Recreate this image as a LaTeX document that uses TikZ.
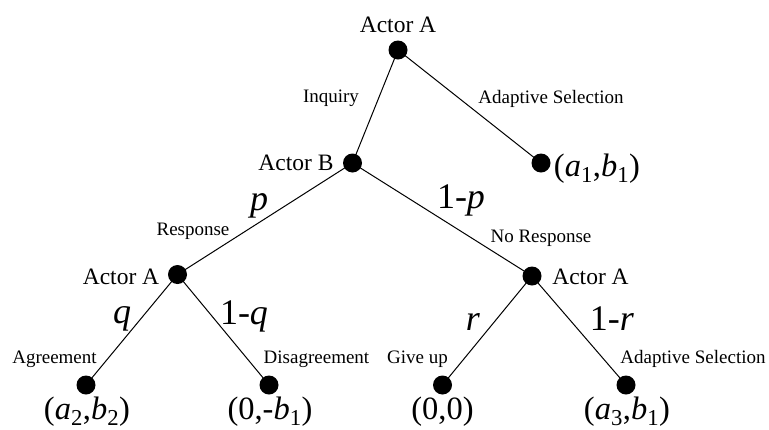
\documentclass[tikz,border=0pt]{standalone}
\usepackage{fontspec}
\setmainfont{Liberation Serif}
\newcommand\actorfont{\fontsize{23.5}{26}\selectfont}
\newcommand\smallfont{\fontsize{19}{22}\selectfont}
\newcommand\probfont{\fontsize{36}{40}\selectfont}
\newcommand\tuplefont{\fontsize{32.5}{36}\selectfont}
\newcommand\sbs[1]{\textsubscript{#1}}
\tikzset{
  dot/.style={circle,fill=black,draw=none,inner sep=0pt,minimum size=19pt},
  edge/.style={line width=1pt,black},
  actor/.style={anchor=base,inner sep=0pt,font=\actorfont},
  act/.style={anchor=base,inner sep=0pt,font=\smallfont},
  prob/.style={anchor=base,inner sep=0pt,font=\probfont},
  tuple/.style={anchor=base,inner sep=0pt,font=\tuplefont}
}
\begin{document}
\begin{tikzpicture}[x=1pt,y=-1pt]
\fill[white] (0,0) rectangle (769,429);
\useasboundingbox (0,0) rectangle (769,429);
% decision / terminal nodes
\node[dot] (root) at (398,50) {};
\node[dot] (b) at (352.5,163) {};
\node[dot] (l1) at (541,163) {};
\node[dot] (al) at (177.5,274.5) {};
\node[dot] (ar) at (532,276) {};
\node[dot] (t1) at (86,385) {};
\node[dot] (t2) at (269,385) {};
\node[dot] (t3) at (442.5,385) {};
\node[dot] (t4) at (626,385) {};
% edges
\draw[edge] (root.center) -- (b.center);
\draw[edge] (root.center) -- (l1.center);
\draw[edge] (b.center) -- (al.center);
\draw[edge] (b.center) -- (ar.center);
\draw[edge] (al.center) -- (t1.center);
\draw[edge] (al.center) -- (t2.center);
\draw[edge] (ar.center) -- (t3.center);
\draw[edge] (ar.center) -- (t4.center);
% actor labels
\node[actor] (lroot) at (398,32) {Actor A};
\node[actor] (lb) at (296,170) {Actor B};
\node[actor] (lal) at (121,284) {Actor A};
\node[actor] (lar) at (590.5,284) {Actor A};
% action labels
\node[act] (inq) at (331,102) {Inquiry};
\node[act] (ads1) at (551,103) {Adaptive Selection};
\node[act] (resp) at (193,235) {Response};
\node[act] (nresp) at (541,242) {No Response};
\node[act] (agr) at (54.5,363) {Agreement};
\node[act] (dis) at (316.5,363) {Disagreement};
\node[act] (give) at (417.5,363) {Give up};
\node[act] (ads2) at (693,363) {Adaptive Selection};
% probabilities
\node[prob] (pp) at (259,210) {\textit{p}};
\node[prob] (pnp) at (461,208) {1-\textit{p}};
\node[prob] (pq) at (122,323) {\textit{q}};
\node[prob] (pnq) at (244,324) {1-\textit{q}};
\node[prob] (pr) at (473,330) {\textit{r}};
\node[prob] (pnr) at (612,330) {1-\textit{r}};
% payoffs
\node[tuple] (u1) at (597,176) {(\textit{a}\sbs{1},\textit{b}\sbs{1})};
\node[tuple] (u2) at (87,419.5) {(\textit{a}\sbs{2},\textit{b}\sbs{2})};
\node[tuple] (u3) at (270,419.5) {(0,-\textit{b}\sbs{1})};
\node[tuple] (u4) at (442.5,419.5) {(0,0)};
\node[tuple] (u5) at (627,419.5) {(\textit{a}\sbs{3},\textit{b}\sbs{1})};
\end{tikzpicture}
\end{document}
